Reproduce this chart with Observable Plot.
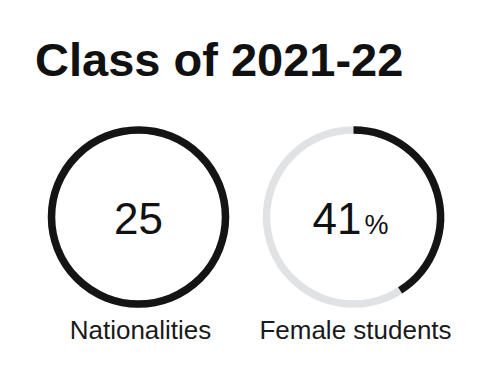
<!DOCTYPE html>
<html>
<head>
<meta charset="utf-8">
<script src="https://cdn.jsdelivr.net/npm/d3@7"></script>
<script src="https://cdn.jsdelivr.net/npm/@observablehq/plot@0.6"></script>
<style>
  html, body { margin: 0; padding: 0; background: #fff; }
  body { width: 488px; height: 370px; overflow: hidden; font-family: "Liberation Sans", Arial, sans-serif; }
  h1 { margin: 0; padding: 36px 0 0 35px; font-size: 47px; line-height: 47px; font-weight: bold; color: #111; letter-spacing: 0; }
  #chart svg { display: block; }
</style>
</head>
<body>
<h1>Class of 2021-22</h1>
<div id="chart"></div>
<script>
const title = "Class of 2021-22";
const labels = ["Nationalities", "Female students"];
const values = [25, 41];
const units = ["", "%"];
const fractions = [1, 0.41];

const rows = labels.map((label, i) => ({label, value: values[i], unit: units[i], fraction: fractions[i]}));

function arcSymbol(fraction) {
  return {
    draw(context, size) {
      const r = Math.sqrt(size / Math.PI);
      const a0 = -Math.PI / 2;
      const a1 = a0 + fraction * 2 * Math.PI;
      context.moveTo(r * Math.cos(a0), r * Math.sin(a0));
      context.arc(0, 0, r, a0, a1, false);
    }
  };
}

const R = 87;
const marks = [
  Plot.dot(rows, {x: "label", r: R, stroke: "#e1e2e4", strokeWidth: 7.5, fill: "none"}),
  ...rows.map(d => Plot.dot([d], {x: "label", r: R, stroke: "#141414", strokeWidth: 7.5, fill: "none", symbol: arcSymbol(d.fraction), strokeLinecap: "butt"})),
  Plot.text(rows.filter(d => !d.unit), {x: "label", text: d => String(d.value), fontSize: 44, lineAnchor: "bottom", dy: 16.5, textAnchor: "middle", fill: "#111"}),
  Plot.text(rows.filter(d => d.unit), {x: "label", text: d => String(d.value), fontSize: 44, lineAnchor: "bottom", dy: 16.5, textAnchor: "end", dx: 8, fill: "#111"}),
  Plot.text(rows.filter(d => d.unit), {x: "label", text: "unit", fontSize: 27, lineAnchor: "bottom", dy: 16.5, textAnchor: "start", dx: 11, fill: "#111"}),
  Plot.text(rows, {x: "label", text: "label", fontSize: 26, lineAnchor: "bottom", dy: 121.5, dx: 2, textAnchor: "middle", fill: "#1a1a1a"})
];

const chart = Plot.plot({
  width: 488,
  height: 287,
  marginTop: 0,
  marginBottom: 20,
  marginLeft: 0,
  marginRight: 0,
  style: {fontFamily: "'Liberation Sans', Arial, sans-serif", background: "#fff", overflow: "visible"},
  x: {type: "point", domain: labels, range: [138, 353], padding: 0, axis: null},
  marks
});
document.getElementById("chart").appendChild(chart);
</script>
</body>
</html>
